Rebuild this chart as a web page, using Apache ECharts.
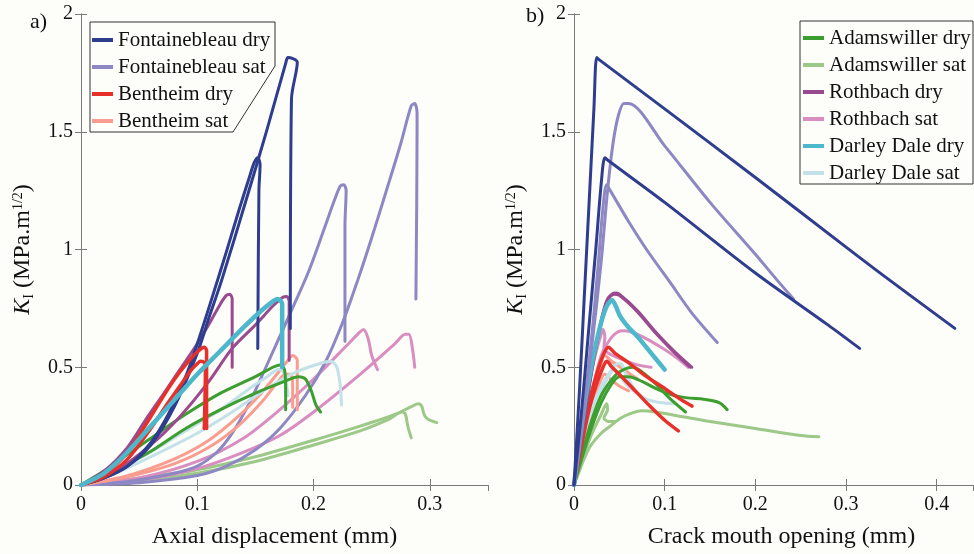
<!DOCTYPE html>
<html>
<head>
<meta charset="utf-8">
<script src="https://cdn.jsdelivr.net/npm/echarts@6/dist/echarts.min.js"></script>
<style>html,body{margin:0;padding:0;background:#fdfdf9;}#c{width:974px;height:554px;}</style>
</head>
<body>
<div id="c"></div>
<script>
// ---------- names / ticks ----------
const legendLeft = ['Fontainebleau dry','Fontainebleau sat','Bentheim dry','Bentheim sat'];
const legendRight = ['Adamswiller dry','Adamswiller sat','Rothbach dry','Rothbach sat','Darley Dale dry','Darley Dale sat'];
const xTicksA = [0, 0.35, 0.1];   // min, max, interval (axial displacement, mm)
const xTicksB = [0, 0.44, 0.1];   // min, max, interval (crack mouth opening, mm)
const yTicks  = [0, 2, 0.5];      // min, max, interval (K_I)

// ---------- panel a) K_I vs axial displacement ----------
const fbDryA1 = [[0,0],[0.02,0.03],[0.04,0.08],[0.06,0.18],[0.075,0.3],[0.09,0.46],[0.1,0.6],[0.113,0.8],[0.125,0.99],[0.136,1.17],[0.145,1.31],[0.149,1.37],[0.152,1.39],[0.154,1.36],[0.153,1.25],[0.152,0.58]];
const fbDryA2 = [[0,0],[0.02,0.03],[0.04,0.08],[0.06,0.17],[0.08,0.33],[0.1,0.56],[0.11,0.71],[0.121,0.87],[0.142,1.21],[0.16,1.51],[0.176,1.79],[0.178,1.815],[0.186,1.795],[0.181,1.64],[0.18,0.665]];
const fbSatA1 = [[0,0],[0.04,0.015],[0.08,0.05],[0.1,0.08],[0.117,0.14],[0.13,0.22],[0.145,0.35],[0.159,0.5],[0.18,0.73],[0.196,0.91],[0.21,1.1],[0.218,1.21],[0.223,1.27],[0.226,1.275],[0.228,1.25],[0.227,1.1],[0.227,0.61]];
const fbSatA2 = [[0,0],[0.05,0.01],[0.1,0.04],[0.125,0.08],[0.15,0.15],[0.171,0.24],[0.193,0.38],[0.21,0.52],[0.225,0.69],[0.238,0.87],[0.25,1.05],[0.262,1.24],[0.275,1.45],[0.284,1.61],[0.287,1.62],[0.289,1.58],[0.289,1.5],[0.288,0.79]];
const beDryA1 = [[0,0],[0.02,0.045],[0.04,0.14],[0.06,0.29],[0.075,0.41],[0.085,0.48],[0.095,0.54],[0.1,0.565],[0.104,0.582],[0.106,0.585],[0.108,0.57],[0.108,0.5],[0.108,0.24]];
const beDryA2 = [[0,0],[0.02,0.035],[0.04,0.11],[0.06,0.24],[0.075,0.35],[0.085,0.42],[0.095,0.49],[0.1,0.515],[0.103,0.525],[0.106,0.52],[0.107,0.5],[0.106,0.24]];
const beSatA1 = [[0,0],[0.04,0.04],[0.08,0.11],[0.11,0.19],[0.135,0.29],[0.155,0.39],[0.17,0.48],[0.178,0.53],[0.182,0.55],[0.186,0.53],[0.186,0.45],[0.186,0.32]];
const beSatA2 = [[0,0],[0.04,0.035],[0.08,0.09],[0.11,0.16],[0.135,0.25],[0.155,0.35],[0.168,0.43],[0.176,0.47],[0.18,0.47],[0.182,0.43],[0.182,0.33]];
const adDryA1 = [[0,0],[0.02,0.06],[0.04,0.13],[0.059,0.195],[0.09,0.3],[0.12,0.39],[0.15,0.46],[0.165,0.5],[0.171,0.51],[0.175,0.49],[0.176,0.4],[0.176,0.32]];
const adDryA2 = [[0,0],[0.02,0.04],[0.04,0.09],[0.059,0.14],[0.09,0.24],[0.12,0.32],[0.15,0.39],[0.175,0.44],[0.187,0.46],[0.193,0.45],[0.198,0.4],[0.202,0.34],[0.206,0.31]];
const adSatA1 = [[0,0],[0.05,0.03],[0.1,0.065],[0.15,0.12],[0.2,0.19],[0.24,0.25],[0.27,0.3],[0.285,0.335],[0.29,0.345],[0.293,0.335],[0.295,0.3],[0.298,0.28],[0.306,0.265]];
const adSatA2 = [[0,0],[0.05,0.02],[0.1,0.05],[0.15,0.1],[0.2,0.17],[0.24,0.23],[0.265,0.28],[0.276,0.31],[0.279,0.3],[0.281,0.25],[0.284,0.2]];
const roDryA1 = [[0,0],[0.02,0.06],[0.04,0.16],[0.056,0.28],[0.07,0.38],[0.085,0.49],[0.1,0.6],[0.112,0.7],[0.12,0.77],[0.125,0.805],[0.128,0.81],[0.13,0.79],[0.13,0.7],[0.13,0.5]];
const roDryA2 = [[0,0],[0.03,0.06],[0.06,0.17],[0.085,0.29],[0.11,0.44],[0.13,0.58],[0.15,0.68],[0.165,0.76],[0.173,0.795],[0.177,0.8],[0.179,0.78],[0.179,0.53]];
const roSatA1 = [[0,0],[0.05,0.03],[0.1,0.1],[0.14,0.2],[0.171,0.32],[0.2,0.45],[0.23,0.6],[0.24,0.65],[0.243,0.66],[0.247,0.62],[0.25,0.55],[0.255,0.49]];
const roSatA2 = [[0,0],[0.05,0.02],[0.1,0.07],[0.14,0.14],[0.171,0.21],[0.2,0.31],[0.24,0.47],[0.27,0.6],[0.279,0.64],[0.282,0.64],[0.285,0.58],[0.287,0.5]];
const ddDryA1 = [[0,0],[0.02,0.05],[0.04,0.14],[0.06,0.25],[0.08,0.36],[0.1,0.47],[0.12,0.57],[0.14,0.67],[0.155,0.74],[0.165,0.78],[0.169,0.79],[0.173,0.77],[0.173,0.6],[0.173,0.5]];
const ddSatA1 = [[0,0],[0.03,0.05],[0.06,0.12],[0.1,0.22],[0.13,0.31],[0.16,0.41],[0.185,0.48],[0.205,0.515],[0.215,0.525],[0.22,0.5],[0.223,0.42],[0.224,0.34]];
const ddSatA2 = [[0,0],[0.03,0.06],[0.06,0.14],[0.09,0.23],[0.12,0.32],[0.145,0.41],[0.16,0.46],[0.17,0.49],[0.174,0.48],[0.177,0.42],[0.178,0.38]];

// ---------- panel b) K_I vs crack mouth opening ----------
const fbDryB1 = [[0,0],[0.008,0.3],[0.016,0.65],[0.024,1.0],[0.03,1.28],[0.034,1.39],[0.037,1.38],[0.1,1.2],[0.2,0.9],[0.28,0.68],[0.315,0.58]];
const fbDryB2 = [[0,0],[0.006,0.4],[0.012,0.85],[0.018,1.3],[0.022,1.6],[0.025,1.815],[0.028,1.805],[0.1,1.597],[0.2,1.306],[0.3,1.01],[0.341,0.89],[0.42,0.665]];
const fbSatB1 = [[0,0],[0.01,0.3],[0.02,0.65],[0.027,0.95],[0.032,1.18],[0.036,1.275],[0.04,1.25],[0.06,1.12],[0.08,1.0],[0.106,0.86],[0.13,0.73],[0.158,0.605]];
const fbSatB2 = [[0,0],[0.01,0.3],[0.02,0.6],[0.03,0.95],[0.037,1.25],[0.043,1.45],[0.049,1.57],[0.055,1.62],[0.06,1.62],[0.1,1.44],[0.15,1.2],[0.2,0.98],[0.224,0.87],[0.242,0.79]];
const beDryB1 = [[0,0],[0.008,0.18],[0.016,0.34],[0.025,0.47],[0.032,0.55],[0.038,0.585],[0.045,0.56],[0.06,0.52],[0.08,0.46],[0.1,0.41],[0.115,0.37],[0.13,0.335]];
const beDryB2 = [[0,0],[0.008,0.16],[0.016,0.31],[0.025,0.43],[0.032,0.5],[0.036,0.525],[0.042,0.5],[0.055,0.45],[0.07,0.39],[0.085,0.33],[0.1,0.275],[0.115,0.23]];
const beSatB1 = [[0,0],[0.008,0.15],[0.016,0.3],[0.024,0.43],[0.03,0.52],[0.034,0.55],[0.04,0.53],[0.055,0.49],[0.07,0.45]];
const beSatB2 = [[0,0],[0.008,0.13],[0.016,0.26],[0.024,0.38],[0.03,0.45],[0.034,0.47],[0.04,0.45],[0.05,0.42],[0.06,0.4]];
const adDryB1 = [[0,0],[0.01,0.15],[0.02,0.28],[0.03,0.38],[0.04,0.44],[0.05,0.48],[0.065,0.5],[0.075,0.48],[0.09,0.43],[0.105,0.37],[0.123,0.31]];
const adDryB2 = [[0,0],[0.01,0.13],[0.02,0.25],[0.03,0.35],[0.04,0.42],[0.05,0.46],[0.06,0.46],[0.075,0.44],[0.09,0.41],[0.106,0.385],[0.125,0.37],[0.143,0.364],[0.16,0.35],[0.169,0.32]];
const adSatB1 = [[0,0],[0.005,0.05],[0.01,0.1],[0.018,0.165],[0.03,0.22],[0.04,0.25],[0.05,0.28],[0.06,0.3],[0.075,0.315],[0.09,0.31],[0.12,0.29],[0.15,0.27],[0.2,0.24],[0.25,0.21],[0.27,0.205]];
const adSatB2 = [[0,0],[0.01,0.12],[0.02,0.22],[0.03,0.3],[0.036,0.345],[0.037,0.32],[0.033,0.285],[0.038,0.27],[0.045,0.27]];
const roDryB1 = [[0,0],[0.01,0.25],[0.02,0.5],[0.03,0.7],[0.037,0.79],[0.045,0.815],[0.05,0.81],[0.07,0.74],[0.09,0.65],[0.11,0.57],[0.13,0.5]];
const roDryB2 = [[0,0],[0.01,0.245],[0.02,0.49],[0.03,0.69],[0.037,0.785],[0.044,0.81],[0.05,0.805],[0.07,0.735],[0.09,0.645],[0.11,0.565],[0.128,0.5]];
const roSatB1 = [[0,0],[0.01,0.2],[0.02,0.4],[0.03,0.55],[0.04,0.62],[0.048,0.65],[0.055,0.655],[0.07,0.64],[0.085,0.61],[0.1,0.575],[0.115,0.535],[0.126,0.5]];
const roSatB2 = [[0,0],[0.008,0.22],[0.016,0.42],[0.024,0.56],[0.03,0.64],[0.032,0.66],[0.034,0.63],[0.033,0.58],[0.04,0.555],[0.055,0.53],[0.07,0.51],[0.085,0.5]];
const ddDryB1 = [[0,0],[0.005,0.15],[0.012,0.35],[0.02,0.52],[0.028,0.66],[0.035,0.75],[0.042,0.785],[0.046,0.76],[0.051,0.716],[0.06,0.67],[0.07,0.63],[0.085,0.56],[0.1,0.49]];
const ddSatB1 = [[0,0],[0.01,0.2],[0.02,0.33],[0.03,0.42],[0.04,0.48],[0.048,0.515],[0.052,0.515],[0.056,0.48],[0.063,0.43],[0.07,0.39],[0.08,0.365],[0.095,0.35],[0.11,0.345]];
const ddSatB2 = [[0,0],[0.01,0.18],[0.02,0.3],[0.03,0.4],[0.038,0.46],[0.044,0.49],[0.048,0.48],[0.055,0.44],[0.062,0.41],[0.068,0.395]];

// ---------- styling ----------
const FONT = '"Liberation Serif","DejaVu Serif",serif';
const COLORS = {
  'Fontainebleau dry':'#2f3d8e','Fontainebleau sat':'#8d88c3',
  'Bentheim dry':'#e8302a','Bentheim sat':'#fb9c90',
  'Adamswiller dry':'#3b9e2e','Adamswiller sat':'#9cc888',
  'Rothbach dry':'#9a4a8e','Rothbach sat':'#d98dc0',
  'Darley Dale dry':'#4db7cc','Darley Dale sat':'#c3e1e8'
};
const WIDTH = {'Darley Dale dry':4.5,'Bentheim dry':3.5};

function mk(name, data, panel){
  return {
    name: name, type: 'line', data: data,
    xAxisIndex: panel === 0 ? 0 : 2, yAxisIndex: panel === 0 ? 0 : 2,
    symbol: 'none', showSymbol: false, smooth: 0.3, animation: false,
    lineStyle: {color: COLORS[name], width: WIDTH[name] || 3, join: 'round', cap: 'round'},
    itemStyle: {color: COLORS[name]},
    emphasis: {disabled: true}
  };
}

const series = [
  mk('Adamswiller sat', adSatA1, 0), mk('Adamswiller sat', adSatA2, 0),
  mk('Rothbach sat', roSatA1, 0), mk('Rothbach sat', roSatA2, 0),
  mk('Fontainebleau sat', fbSatA1, 0), mk('Fontainebleau sat', fbSatA2, 0),
  mk('Bentheim sat', beSatA1, 0), mk('Bentheim sat', beSatA2, 0),
  mk('Darley Dale sat', ddSatA1, 0), mk('Darley Dale sat', ddSatA2, 0),
  mk('Adamswiller dry', adDryA1, 0), mk('Adamswiller dry', adDryA2, 0),
  mk('Rothbach dry', roDryA1, 0), mk('Rothbach dry', roDryA2, 0),
  mk('Fontainebleau dry', fbDryA1, 0), mk('Fontainebleau dry', fbDryA2, 0),
  mk('Bentheim dry', beDryA1, 0), mk('Bentheim dry', beDryA2, 0),
  mk('Darley Dale dry', ddDryA1, 0),

  mk('Bentheim sat', beSatB1, 1), mk('Bentheim sat', beSatB2, 1),
  mk('Adamswiller sat', adSatB1, 1), mk('Adamswiller sat', adSatB2, 1),
  mk('Rothbach sat', roSatB1, 1), mk('Rothbach sat', roSatB2, 1),
  mk('Darley Dale sat', ddSatB1, 1), mk('Darley Dale sat', ddSatB2, 1),
  mk('Adamswiller dry', adDryB1, 1), mk('Adamswiller dry', adDryB2, 1),
  mk('Bentheim dry', beDryB1, 1), mk('Bentheim dry', beDryB2, 1),
  mk('Rothbach dry', roDryB1, 1), mk('Rothbach dry', roDryB2, 1),
  mk('Darley Dale dry', ddDryB1, 1),
  mk('Fontainebleau sat', fbSatB1, 1), mk('Fontainebleau sat', fbSatB2, 1),
  mk('Fontainebleau dry', fbDryB1, 1), mk('Fontainebleau dry', fbDryB2, 1)
];

const AX = '#7a7a7a';
const yName = '{k|K}{sub|I}{t| (MPa.m}{sup|1/2}{t|)}';
const yRich = {
  k:{fontFamily:FONT,fontSize:24,fontStyle:'italic',color:'#111',verticalAlign:'middle',lineHeight:30},
  sub:{fontFamily:FONT,fontSize:14,color:'#111',verticalAlign:'bottom',lineHeight:30,padding:[0,0,2,0]},
  t:{fontFamily:FONT,fontSize:24,color:'#111',verticalAlign:'middle',lineHeight:30},
  sup:{fontFamily:FONT,fontSize:14,color:'#111',verticalAlign:'top',lineHeight:30,padding:[3,0,0,0]}
};

function xMain(t, gi, name, pad){
  return {type:'value', gridIndex:gi, position:'bottom', min:t[0], max:t[1], interval:t[2],
    name:name, nameLocation:'middle', nameGap:40,
    nameTextStyle:{fontFamily:FONT,fontSize:24,color:'#111',padding:pad},
    axisLine:{show:true,lineStyle:{color:AX,width:1}},
    axisTick:{show:true,inside:true,length:6,lineStyle:{color:AX}},
    axisLabel:{fontFamily:FONT,fontSize:20,color:'#111',margin:10,showMaxLabel:false},
    splitLine:{show:false}};
}
function xTop(t, gi){
  return {type:'value', gridIndex:gi, position:'top', min:t[0], max:t[1], interval:t[2],
    axisLine:{show:true,lineStyle:{color:AX,width:1}},
    axisTick:{show:true,inside:true,length:6,lineStyle:{color:AX}},
    axisLabel:{show:false}, splitLine:{show:false}};
}
function yMain(gi){
  return {type:'value', gridIndex:gi, position:'left', min:yTicks[0], max:yTicks[1], interval:yTicks[2],
    name:yName, nameLocation:'middle', nameGap:43, nameRotate:90,
    nameTextStyle:{rich:yRich},
    axisLine:{show:true,lineStyle:{color:AX,width:1}},
    axisTick:{show:true,inside:true,length:6,lineStyle:{color:AX}},
    axisLabel:{fontFamily:FONT,fontSize:20,color:'#111',margin:8},
    splitLine:{show:false}};
}
function yRight(gi){
  return {type:'value', gridIndex:gi, position:'right', min:yTicks[0], max:yTicks[1], interval:yTicks[2],
    axisLine:{show:true,lineStyle:{color:AX,width:1}},
    axisTick:{show:true,inside:true,length:6,lineStyle:{color:AX}},
    axisLabel:{show:false}, splitLine:{show:false}};
}

const legendText = {fontFamily:FONT,fontSize:21,color:'#111',lineHeight:22};

const option = {
  backgroundColor:'#fdfdf9',
  animation:false,
  grid:[
    {left:81, top:14, width:407, height:472},
    {left:574, top:14, width:399, height:472}
  ],
  xAxis:[xMain(xTicksA,0,'Axial displacement (mm)',[0,20,0,0]), xTop(xTicksA,0),
         xMain(xTicksB,1,'Crack mouth opening (mm)',[0,0,0,16]), xTop(xTicksB,1)],
  yAxis:[yMain(0), yRight(0), yMain(1), yRight(1)],
  legend:[
    {data:legendLeft, orient:'vertical', left:92, top:29, itemWidth:21, itemHeight:14, itemGap:5,
     textStyle:legendText, selectedMode:false, padding:0, icon:'path://M0,6L21,6L21,10L0,10Z'},
    {data:legendRight, orient:'vertical', left:803, top:27, itemWidth:21, itemHeight:14, itemGap:5,
     textStyle:legendText, selectedMode:false, padding:0, icon:'path://M0,6L21,6L21,10L0,10Z'}
  ],
  graphic:[
    {type:'polygon', shape:{points:[[90,22],[275,22],[275,66],[233,132],[90,132]]},
     style:{fill:'rgba(0,0,0,0)',stroke:'#333',lineWidth:1}, z:100, silent:true},
    {type:'rect', shape:{x:800,y:21,width:173,height:163},
     style:{fill:'rgba(0,0,0,0)',stroke:'#333',lineWidth:1}, z:100, silent:true},
    {type:'text', left:30, top:11, style:{text:'a)',font:'22px '+FONT,fill:'#111'}, silent:true},
    {type:'text', left:526, top:5, style:{text:'b)',font:'22px '+FONT,fill:'#111'}, silent:true}
  ],
  series: series
};

const chart = echarts.init(document.getElementById('c'), null, {renderer:'canvas'});
chart.setOption(option);
</script>
</body>
</html>
